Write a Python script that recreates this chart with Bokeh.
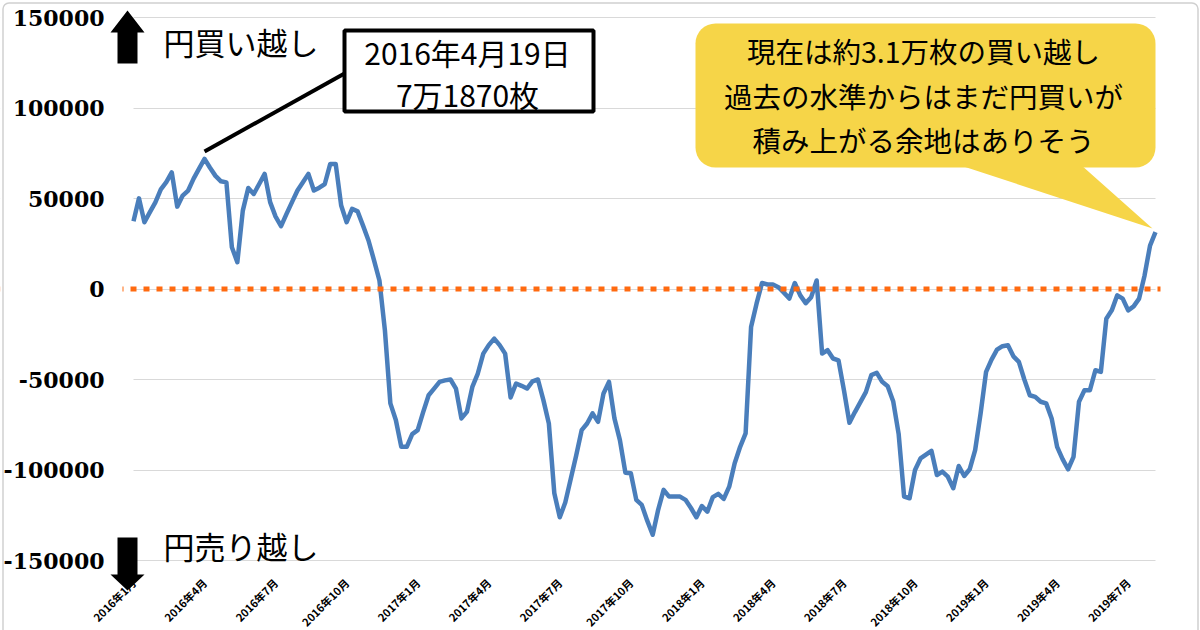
import math
from bokeh.plotting import figure
from bokeh.models import (Range1d, FixedTicker, Span, BoxAnnotation, PolyAnnotation,
                          Label, ColumnDataSource, Grid)
from bokeh.core.properties import value
from bokeh.embed import file_html
from bokeh.resources import INLINE

# ---------------- data (weekly yen net position, contracts) ----------------
net_position = [
    37400, 50100, 36900, 42500, 47900, 55000, 59000, 64400, 45500, 51600,
    54400, 61000, 66500, 71870, 67000, 62500, 59500, 58900, 23100, 14800,
    43300, 55800, 52500, 58000, 63600, 48000, 40000, 34700, 41500, 48000,
    54400, 59000, 63600, 54400, 56000, 58000, 69100, 69100, 46100, 36900,
    44300, 42900, 35000, 26800, 16000, 4700, -22800, -63200, -72400, -87200,
    -87200, -80200, -78000, -68000, -58700, -55000, -51300, -50500, -50000, -55000,
    -71500, -67900, -54100, -46700, -35700, -31000, -27400, -31000, -35700, -59900,
    -52200, -53500, -55000, -51000, -50000, -61400, -74300, -112900, -126100, -118000,
    -105000, -92000, -78000, -74300, -68700, -73400, -57700, -51300, -71500, -83500,
    -101500, -101800, -116500, -119300, -128000, -135800, -122000, -111000, -114700, -114700,
    -114700, -116500, -121000, -126100, -119900, -123000, -115000, -113200, -116000, -109200,
    -96300, -87200, -79800, -21000, -8100, 3300, 2500, 2500, 1000, -2000,
    -5300, 3300, -3500, -7800, -4500, 4700, -35700, -33800, -38400, -39400,
    -56000, -73900, -68000, -62500, -57000, -47600, -46300, -51300, -53700, -62000,
    -80000, -114700, -115600, -100000, -93600, -91500, -89400, -102800, -100900, -103700,
    -110100, -97800, -103300, -99600, -89000, -68700, -45800, -39000, -33500, -31600,
    -31100, -37200, -40300, -50000, -58700, -59600, -62300, -63200, -71500, -87200,
    -94000, -99600, -92700, -62300, -55900, -55900, -44900, -45800, -16400, -11800,
    -3500, -5300, -11800, -9600, -5300, 7500, 24000, 31400,
]
week_index = list(range(len(net_position)))

x_tick_positions = [0, 13, 26, 39, 52, 65, 78, 91, 104, 117, 130, 143, 156, 169, 182]
x_tick_labels = ["2016年1月", "2016年4月", "2016年7月", "2016年10月",
                 "2017年1月", "2017年4月", "2017年7月", "2017年10月",
                 "2018年1月", "2018年4月", "2018年7月", "2018年10月",
                 "2019年1月", "2019年4月", "2019年7月"]
y_ticks = [-150000, -100000, -50000, 0, 50000, 100000, 150000]
y_tick_labels = ["-150000", "-100000", "-50000", "0", "50000", "100000", "150000"]

peak_text = ["2016年4月19日", "7万1870枚"]
bubble_text = ["現在は約3.1万枚の買い越し", "過去の水準からはまだ円買いが", "積み上がる余地はありそう"]
up_text = "円買い越し"
down_text = "円売り越し"

JP = "Noto Sans CJK JP"

# ---------------- layout (pixels of the 1200x630 canvas) ----------------
W, H = 1200, 630
PX_FIRST, PX_LAST = 133, 1155        # first / last week
PX_TOP, PX_BOTTOM = 17, 560          # y = 150000 / -150000
n = len(net_position)
x_per_px = (n - 1) / (PX_LAST - PX_FIRST)
y_per_px = (y_ticks[-1] - y_ticks[0]) / (PX_BOTTOM - PX_TOP)
x_start = -PX_FIRST * x_per_px
x_end = (n - 1) + (W - PX_LAST) * x_per_px
y_end = y_ticks[-1] + PX_TOP * y_per_px
y_start = y_ticks[0] - (H - PX_BOTTOM) * y_per_px


def X(px):
    return x_start + px * x_per_px


def Y(py):
    return y_end - py * y_per_px


p = figure(width=W, height=H, output_backend="svg", toolbar_location=None,
           x_range=Range1d(x_start, x_end), y_range=Range1d(y_start, y_end),
           x_axis_type=None, y_axis_type=None, min_border=0,
           background_fill_color="white", border_fill_color="white",
           outline_line_color=None)

# horizontal gridlines
p.add_layout(Grid(dimension=1, ticker=FixedTicker(ticks=y_ticks),
                  grid_line_color="#D9D9D9", grid_line_width=1))
# keep gridlines inside the plot area (left of first week / right of last week)
p.add_layout(BoxAnnotation(left=X(-20), right=0, fill_color="white", fill_alpha=1,
                           line_color=None, level="underlay"))
p.add_layout(BoxAnnotation(left=n - 1, right=X(W + 20), fill_color="white", fill_alpha=1,
                           line_color=None, level="underlay"))

# callout boxes (under the data line, over the grid)
p.add_layout(BoxAnnotation(left=X(695), right=X(1155), top=Y(23), bottom=Y(167),
                           fill_color="#F6D548", fill_alpha=1, line_color=None,
                           border_radius=20, level="underlay"))
p.add_layout(PolyAnnotation(xs=[X(957), X(1080), X(1152)], ys=[Y(164), Y(164), Y(228)],
                            fill_color="#F6D548", fill_alpha=1, line_color=None,
                            level="underlay"))
p.add_layout(BoxAnnotation(left=X(344), right=X(593), top=Y(30), bottom=Y(111),
                           fill_color="white", fill_alpha=1, line_color="black",
                           line_alpha=1, line_width=4, level="underlay"))

# the series
src = ColumnDataSource(dict(week=week_index, net=net_position))
p.line(x="week", y="net", source=src, line_color="#4A7EBB", line_width=4.5,
       line_join="round")

# leader line from the peak box to the peak
peak_i = net_position.index(max(net_position))
p.segment(x0=[X(344)], y0=[Y(73)], x1=[peak_i], y1=[Y(151)],
          line_color="black", line_width=4)

# zero line (orange dotted), trimmed to the plot area
p.add_layout(Span(location=0, dimension="width", line_color="#FF6A10",
                  line_width=5, line_dash="6 7"))
p.add_layout(BoxAnnotation(left=X(-20), right=X(122), top=4000, bottom=-4000,
                           fill_color="white", fill_alpha=1, line_color=None))
p.add_layout(BoxAnnotation(left=X(1160), right=X(W + 20), top=4000, bottom=-4000,
                           fill_color="white", fill_alpha=1, line_color=None))


# thick black arrows
def arrow(px_c, py_tail, py_base, py_tip, half_shaft=10, half_head=17):
    xc = X(px_c)
    hs = half_shaft * x_per_px
    hh = half_head * x_per_px
    xs = [xc - hs, xc - hs, xc - hh, xc, xc + hh, xc + hs, xc + hs]
    ys = [Y(py_tail), Y(py_base), Y(py_base), Y(py_tip), Y(py_base), Y(py_base), Y(py_tail)]
    return PolyAnnotation(xs=xs, ys=ys, fill_color="black", fill_alpha=1, line_color=None)


p.add_layout(arrow(127, 63, 32, 10))
p.add_layout(arrow(127, 537, 574, 590))

# axis tick labels (drawn on top of everything)
p.text(x=[X(104)] * len(y_ticks), y=y_ticks, text=y_tick_labels,
       text_font=value("DejaVu Serif"), text_font_style="bold",
       text_font_size=value("22px"), text_color="black",
       text_align="right", text_baseline="middle", level="overlay")
p.text(x=x_tick_positions, y=[Y(580)] * len(x_tick_positions), text=x_tick_labels,
       angle=math.pi / 4, text_font=value(JP), text_font_style="bold",
       text_font_size=value("11px"), text_color="black",
       text_align="right", text_baseline="middle", level="overlay")

p.add_layout(Label(x=X(163), y=Y(41), text=up_text, text_font=JP, text_font_size="31px",
                   text_align="left", text_baseline="middle", text_color="black"))
p.add_layout(Label(x=X(163), y=Y(545), text=down_text, text_font=JP, text_font_size="31px",
                   text_align="left", text_baseline="middle", text_color="black"))

for t, py in zip(peak_text, [51, 93]):
    p.add_layout(Label(x=X(467), y=Y(py), text=t, text_font=JP, text_font_size="30px",
                       text_align="center", text_baseline="middle", text_color="black"))

for t, py in zip(bubble_text, [50, 95, 139]):
    p.add_layout(Label(x=X(923), y=Y(py), text=t, text_font=JP, text_font_size="28.5px",
                       text_align="center", text_baseline="middle", text_color="black"))

# outer chart border
p.add_layout(BoxAnnotation(left=X(2.5), right=X(1197.5), top=Y(2.5), bottom=Y(700),
                           fill_alpha=0, line_color="#D0D0D0", line_alpha=1,
                           line_width=1.5, border_radius=6))

open("out.html", "w").write(file_html(p, INLINE, title="円ポジション"))
